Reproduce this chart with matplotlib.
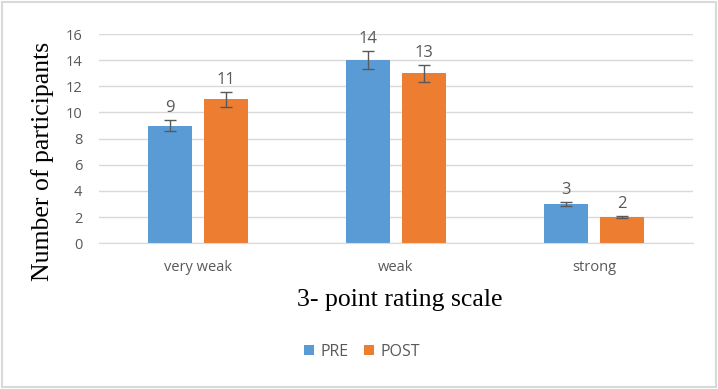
import numpy as np
import matplotlib.pyplot as plt
from matplotlib.patches import Rectangle

categories = ["very weak", "weak", "strong"]
pre = [9, 14, 3]
post = [11, 13, 2]
pre_err = [0.45, 0.7, 0.15]
post_err = [0.55, 0.65, 0.1]

blue = "#5B9BD5"
orange = "#ED7D31"
gray = "#595959"
sans = "Open Sans"
serif = "Liberation Serif"

fig = plt.figure(figsize=(7.18, 3.89), dpi=100)
ax = fig.add_axes([99 / 718, 1 - 243.3 / 389, 594 / 718, 209.3 / 389])

x = np.arange(len(categories))
w = 0.22
off = 0.142
ekw = dict(ecolor=gray, elinewidth=1.0, capsize=4, capthick=1.0)
b1 = ax.bar(x - off, pre, w, yerr=pre_err, color=blue, error_kw=ekw, label="PRE", zorder=2)
b2 = ax.bar(x + off, post, w, yerr=post_err, color=orange, error_kw=ekw, label="POST", zorder=2)

for xs, vals, errs in [(x - off, pre, pre_err), (x + off, post, post_err)]:
    for xi, v, e in zip(xs, vals, errs):
        ax.annotate(str(v), (xi, v + e), xytext=(0, 3), textcoords="offset points",
                    ha="center", va="bottom", fontsize=12, color=gray, family=sans)

ax.set_xlim(-0.5, 2.5)
ax.set_ylim(0, 16)
ax.set_yticks(range(0, 17, 2))
ax.set_xticks(x)
ax.set_xticklabels(categories)
ax.grid(axis="y", color="#D9D9D9", linewidth=1, zorder=0)
for s in ["top", "right", "left"]:
    ax.spines[s].set_visible(False)
ax.spines["bottom"].set_color("#D9D9D9")
ax.tick_params(axis="both", length=0, labelsize=10.5, labelcolor=gray)
ax.tick_params(axis="x", pad=12)
ax.tick_params(axis="y", pad=12)
for lab in ax.get_xticklabels() + ax.get_yticklabels():
    lab.set_family(sans)

fig.text(43 / 718, 1 - 161 / 389, "Number of participants", rotation=90,
         ha="center", va="center", fontsize=18.5, family=serif)
fig.text(400 / 718, 1 - 300 / 389, "3- point rating scale",
         ha="center", va="center", fontsize=18.5, family=serif)

fig.legend(handles=[b1, b2], labels=["PRE", "POST"], loc="center",
           bbox_to_anchor=(362 / 718, 1 - 352 / 389), ncol=2, frameon=False,
           prop={"family": sans, "size": 11.5}, labelcolor=gray,
           handlelength=0.6, handleheight=0.6, columnspacing=1.0, handletextpad=0.4)

fig.patches.append(Rectangle((2 / 718, 2 / 389), 714 / 718, 385 / 389,
                             transform=fig.transFigure, fill=False,
                             edgecolor="#D9D9D9", linewidth=1.5))

fig.savefig("out.png", dpi=100)
